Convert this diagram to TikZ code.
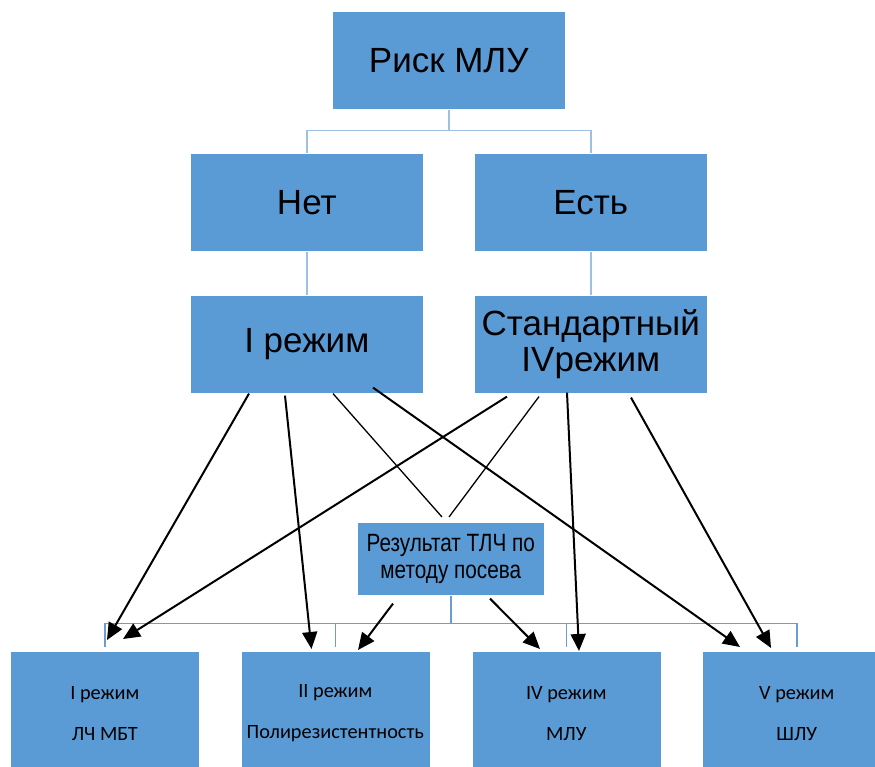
\documentclass[tikz,border=0pt]{standalone}
\usepackage{fontspec}
\setmainfont{Liberation Sans}
\newfontfamily\narrowfont{Liberation Sans}[FakeStretch=0.83]
\newfontfamily\calfont{Carlito}
\usetikzlibrary{arrows.meta,calc}
\definecolor{boxblue}{HTML}{5B9BD5}
\definecolor{toplink}{HTML}{9DC0E4}
\definecolor{botlink}{HTML}{6D9DD0}
\tikzset{
  bigbox/.style={rectangle, fill=boxblue, draw=white, line width=0.6pt, minimum width=233pt, minimum height=98pt, inner sep=0pt, anchor=north west, align=center, font=\fontsize{35}{36}\selectfont},
  midbox/.style={rectangle, fill=boxblue, draw=white, line width=0.6pt, minimum width=187pt, minimum height=73pt, inner sep=0pt, anchor=north west, align=center, font=\narrowfont\fontsize{25}{27}\selectfont},
  lowbox/.style={rectangle, fill=boxblue, draw=white, line width=0.6pt, minimum width=189pt, minimum height=124pt, inner sep=0pt, anchor=north west, align=center, font=\calfont\fontsize{20.3}{41}\selectfont},
  toplinks/.style={draw=toplink, line width=1.4pt},
  botlinks/.style={draw=botlink, line width=1.6pt},
  arr/.style={draw=black, line width=2pt, -{Triangle[length=17pt,width=15pt]}},
  thinline/.style={draw=black, line width=1.3pt},
}
\begin{document}
\begin{tikzpicture}[x=1pt,y=-1pt]
\clip (0,0) rectangle (875,767);
\fill[white] (0,0) rectangle (875,767);
% nodes
\node[bigbox] (risk) at (332,11) {Риск МЛУ};
\node[bigbox] (net) at (190,153) {Нет};
\node[bigbox] (est) at (474,153) {Есть};
\node[bigbox] (ireg) at (190,295) {I режим};
\node[bigbox] (std) at (474,295) {Стандартный\\IVрежим};
\node[midbox] (tlc) at (357,522) {Результат ТЛЧ по\\методу посева};
\node[lowbox] (b1) at (10,651) {I режим\\ЛЧ МБТ};
\node[lowbox] (b2) at (240.5,651) {II режим\\Полирезистентность};
\node[lowbox] (b3) at (471.5,651) {IV режим\\МЛУ};
\node[lowbox] (b4) at (702,651) {V режим\\ШЛУ};
% tree connectors
\draw[toplinks] (risk.south) -- ++(0,21) -| (net.north);
\draw[toplinks] (risk.south) -- ++(0,21) -| (est.north);
\draw[toplinks] (net.south) -- (ireg.north);
\draw[toplinks] (est.south) -- (std.north);
\draw[botlinks] (tlc.south) -- ++(0,28) -| ([yshift=4pt]b1.north);
\draw[botlinks] (tlc.south) -- ++(0,28) -| ([yshift=4pt]b2.north);
\draw[botlinks] (tlc.south) -- ++(0,28) -| ([yshift=4pt]b3.north);
\draw[botlinks] (tlc.south) -- ++(0,28) -| ([yshift=4pt]b4.north);
% arrows from I режим
\draw[arr] ([xshift=59pt]ireg.south west) -- ([xshift=97pt,yshift=11pt]b1.north west);
\draw[arr] ([xshift=95pt,yshift=-2pt]ireg.south west) -- ([xshift=71pt,yshift=2pt]b2.north west);
\draw[thinline] ([xshift=143pt]ireg.south west) -- ([xshift=85pt,yshift=5pt]tlc.north west);
\draw[arr] ([xshift=183pt,yshift=6pt]ireg.south west) -- ([xshift=38pt,yshift=4pt]b4.north west);
% arrows from Стандартный
\draw[arr] ([xshift=33pt,yshift=-3pt]std.south west) -- ([xshift=113pt,yshift=12pt]b1.north west);
\draw[thinline] ([xshift=65pt,yshift=-3pt]std.south west) -- ([xshift=92pt,yshift=5pt]tlc.north west);
\draw[arr] ([xshift=93pt,yshift=1pt]std.south west) -- ([xshift=107.5pt]b3.north west);
\draw[arr] ([xshift=157pt,yshift=-4pt]std.south west) -- ([xshift=69pt,yshift=3pt]b4.north west);
% arrows from result box
\draw[arr] ([xshift=36pt,yshift=-8pt]tlc.south west) -- ([xshift=117.5pt,yshift=1pt]b2.north west);
\draw[arr] ([xshift=133pt,yshift=-3pt]tlc.south west) -- ([xshift=68.5pt,yshift=2pt]b3.north west);
\end{tikzpicture}
\end{document}
